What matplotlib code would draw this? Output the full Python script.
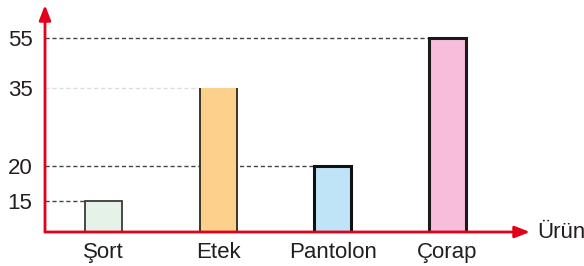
import numpy as np
import matplotlib
matplotlib.use("Agg")
import matplotlib.pyplot as plt

categories = ["Şort", "Etek", "Pantolon", "Çorap"]
values = [15, 35, 20, 55]
ytick_values = [15, 20, 35, 55]
x_axis_label = "Ürün"

fills = ["#e4f2e8", "#fdd08c", "#bfe4f8", "#f7bdda"]
edges = ["#3a3a3a", "#2a2a1a", "#111111", "#1a1a1a"]
edge_widths = [1.3, 1.3, 2.2, 2.2]

# non-uniform (picture-like) vertical scale
knot_vals = np.array([0, 15, 20, 35, 55, 75.0])
knot_pos = np.array([0, 31, 66, 144, 194, 227.0])
def fwd(v):
    return np.interp(v, knot_vals, knot_pos)
def inv(p):
    return np.interp(p, knot_pos, knot_vals)

plt.rcParams['font.family'] = ['Liberation Sans', 'DejaVu Sans']
fig = plt.figure(figsize=(5.84, 2.66), dpi=100)
W, H = 584, 266
ax = fig.add_axes([45 / W, (H - 232) / H, (530 - 45) / W, (232 - 5) / H])
ax.set_yscale('function', functions=(fwd, inv))
ax.set_ylim(0, 75)
xl = (-0.513, 3.72)
ax.set_xlim(*xl)

red = "#e2001a"
txt = "#231f20"
fs = 16
x = np.arange(len(categories))
bw = 0.323
bars = ax.bar(x, values, width=bw, color=fills, zorder=3)
for i, b in enumerate(bars):
    if i == 1:
        b.set_edgecolor('none')
        x0 = b.get_x(); x1 = x0 + b.get_width()
        ax.vlines([x0, x1], 0, values[i], colors=edges[i], lw=edge_widths[i], zorder=4)
    else:
        b.set_edgecolor(edges[i]); b.set_linewidth(edge_widths[i])
    ls_color = "#dddddd" if i == 1 else "#444444"
    ax.hlines(values[i], xl[0], b.get_x(), colors=ls_color, lw=1.0,
              linestyles=(0, (3, 2)), zorder=2)

for s in ax.spines.values():
    s.set_visible(False)
ax.set_yticks(ytick_values)
ax.set_yticklabels([str(v) for v in ytick_values])
ax.yaxis.set_minor_locator(matplotlib.ticker.NullLocator())
ax.set_xticks(x)
ax.set_xticklabels(categories)
ax.tick_params(axis='y', length=0, pad=9, labelsize=fs, labelcolor=txt)
ax.tick_params(axis='x', length=0, pad=7, labelsize=fs, labelcolor=txt)

arrow_kw = dict(arrowstyle="-|>,head_length=0.9,head_width=0.35", color=red,
                lw=2, shrinkA=0, shrinkB=0)
ax.annotate("", xy=(1, 0), xytext=(0, 0), xycoords='axes fraction',
            arrowprops=arrow_kw, annotation_clip=False, zorder=6)
ax.annotate("", xy=(0, 1), xytext=(0, 0), xycoords='axes fraction',
            arrowprops=arrow_kw, annotation_clip=False, zorder=6)
ax.annotate(x_axis_label, xy=(1.0, 0), xycoords='axes fraction',
            xytext=(5, 0), textcoords='offset points', ha='left',
            va='center', fontsize=fs, color=txt, annotation_clip=False)

fig.savefig("out.png", dpi=100)
